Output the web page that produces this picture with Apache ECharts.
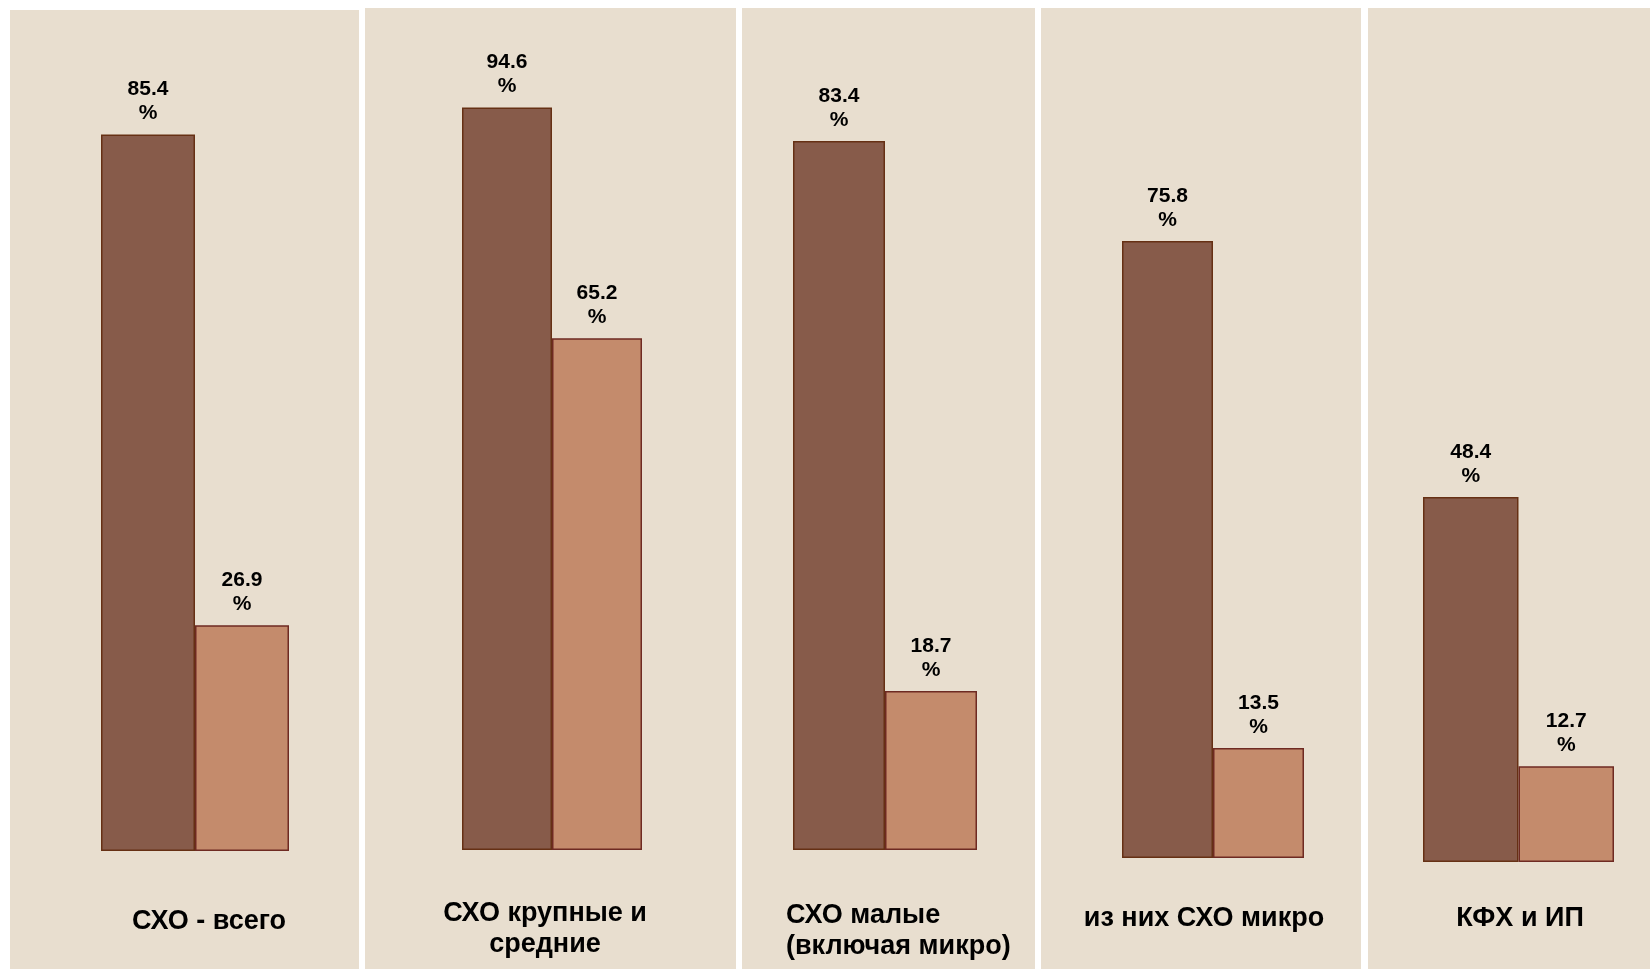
<!DOCTYPE html>
<html>
<head>
<meta charset="utf-8">
<title>СХО</title>
<script src="https://cdn.jsdelivr.net/npm/echarts@6/dist/echarts.min.js"></script>
<style>
  html, body { margin: 0; padding: 0; background: #ffffff; }
  #chart { width: 1650px; height: 969px; }
</style>
</head>
<body>
<div id="chart"></div>
<script>
// данные
var categories = ['СХО - всего', 'СХО крупные и\nсредние', 'СХО малые\n(включая микро)', 'из них СХО микро', 'КФХ и ИП'];
var darkValues = [85.4, 94.6, 83.4, 75.8, 48.4];
var lightValues = [26.9, 65.2, 18.7, 13.5, 12.7];

// панели и области графиков (px)
var panels = [
  { x: 10, w: 349, top: 10 },
  { x: 365, w: 371, top: 8 },
  { x: 742, w: 293, top: 8 },
  { x: 1041, w: 320, top: 8 },
  { x: 1368, w: 282, top: 8 }
]
var grids = [
  { left: 101, width: 188, top: 12, height: 839 },
  { left: 462, width: 180, top: 65, height: 785 },
  { left: 793, width: 184, top: 0, height: 850 },
  { left: 1122, width: 182, top: 44, height: 814 },
  { left: 1423, width: 191, top: 108, height: 754 }
]
var captions = [
  { x: 209, y: 922, align: 'center' },
  { x: 545, y: 929, align: 'center' },
  { x: 786, y: 931, align: 'left' },
  { x: 1204, y: 919, align: 'center' },
  { x: 1520, y: 919, align: 'center' }
]

var darkColor = '#875b4a'
var lightColor = '#c48b6c'

var chart = echarts.init(document.getElementById('chart'))

var graphic = []
panels.forEach(function (p) {
  graphic.push({
    type: 'rect', z: -10, silent: true,
    shape: { x: p.x, y: p.top, width: p.w, height: 969 - p.top },
    style: { fill: '#e8decf' }
  })
})
categories.forEach(function (name, i) {
  var c = captions[i]
  graphic.push({
    type: 'text', silent: true,
    style: {
      x: c.x, y: c.y, text: name,
      textAlign: c.align, textVerticalAlign: 'middle',
      font: 'bold 27px "Liberation Sans", Arial, sans-serif',
      lineHeight: 31, fill: '#000'
    }
  })
})

var xAxis = [], yAxis = [], series = []
categories.forEach(function (name, i) {
  xAxis.push({
    type: 'category', gridIndex: i, data: ['a', 'b'],
    show: false, boundaryGap: true
  })
  yAxis.push({
    type: 'value', gridIndex: i, min: 0, max: 100, show: false
  })
  series.push({
    type: 'bar', xAxisIndex: i, yAxisIndex: i,
    barWidth: '100%',
    data: [
      { value: darkValues[i], itemStyle: { color: darkColor, borderColor: '#663014' } },
      { value: lightValues[i], itemStyle: { color: lightColor, borderColor: '#6e2a22' } }
    ],
    itemStyle: { borderWidth: 1.5 },
    label: {
      show: true, position: 'top', distance: 9,
      formatter: '{c}\n%',
      fontFamily: '"Liberation Sans", Arial, sans-serif',
      fontWeight: 'bold', fontSize: 21, lineHeight: 24, color: '#000'
    },
    animation: false
  })
})

chart.setOption({
  backgroundColor: '#ffffff',
  animation: false,
  grid: grids.map(function (g) {
    return { left: g.left, width: g.width, top: g.top, height: g.height, containLabel: false }
  }),
  xAxis: xAxis,
  yAxis: yAxis,
  graphic: graphic,
  series: series
})
</script>
</body>
</html>
